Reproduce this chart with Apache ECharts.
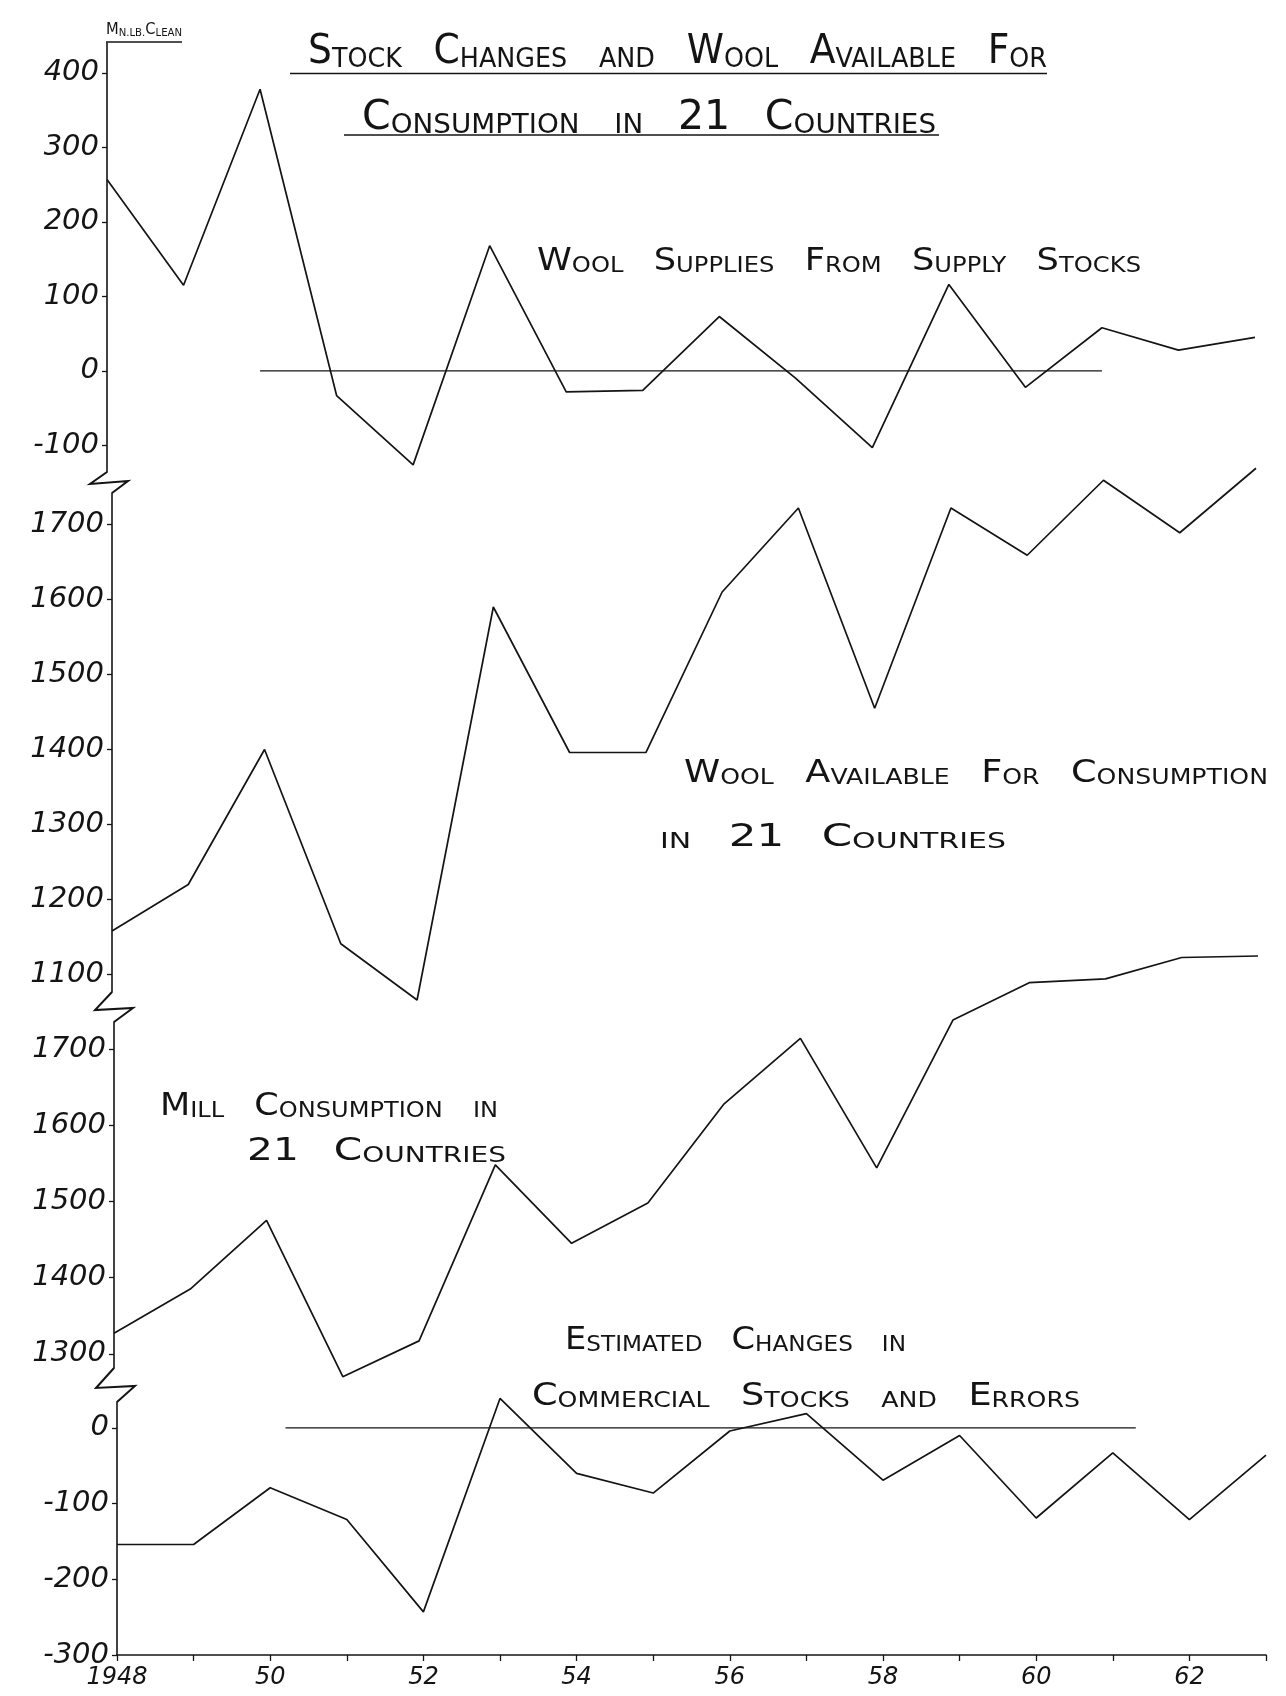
<!DOCTYPE html>
<html><head><meta charset="utf-8">
<script src="https://cdn.jsdelivr.net/npm/echarts@6/dist/echarts.min.js"></script>
<style>html,body{margin:0;padding:0;background:#fff}#c{width:1286px;height:1696px}</style>
</head><body><div id="c"></div>
<script>
// ---------------- DATA ----------------
const years = [1948,1949,1950,1951,1952,1953,1954,1955,1956,1957,1958,1959,1960,1961,1962,1963];
const supplyStocks      = [257,115,378,-33,-126,168,-28,-26,73,-10,-103,116,-22,58,28,45];
const woolAvailable     = [1158,1220,1400,1141,1066,1590,1396,1396,1610,1722,1455,1722,1659,1759,1689,1775];
const millConsumption   = [1327,1385,1475,1270,1317,1548,1445,1498,1628,1714,1544,1738,1787,1792,1820,1822];
const commercialChanges = [-154,-154,-79,-121,-243,39,-60,-86,-4,19,-69,-10,-119,-33,-121,-36];
const zeroLine1 = [[1950,0],[1961,0]];
const zeroLine4 = [[1950.2,0],[1961.3,0]];
const yTicks1 = [-100,0,100,200,300,400];
const yTicks2 = [1100,1200,1300,1400,1500,1600,1700];
const yTicks3 = [1300,1400,1500,1600,1700];
const yTicks4 = [-300,-200,-100,0];
const xLabelYears = [1948,1950,1952,1954,1956,1958,1960,1962];
const xLabelTexts = ['1948','50','52','54','56','58','60','62'];
const unitLabel = 'Mn.lb.Clean';
const titleLines = ['Stock Changes and Wool Available For','Consumption in 21 Countries'];
const seriesLabels = {
  supply: ['Wool Supplies From Supply Stocks'],
  available: ['Wool Available For Consumption','in 21 Countries'],
  mill: ['Mill Consumption in','21 Countries'],
  commercial: ['Estimated Changes in','Commercial Stocks and Errors']
};

// ---------------- LAYOUT / STYLE ----------------
const INK = '#141414';
const FONT = '"DejaVu Sans", sans-serif';
const grids = [
  {left:107, top:43,   width:1148, height:429},
  {left:112, top:493,  width:1144, height:499},
  {left:114, top:1022, width:1144, height:346},
  {left:117, top:1402, width:1149, height:253}
];
const yRanges = [[-135.6,440],[1076.7,1742],[1281.4,1735.4],[-300,34.3]];
const yTickSets = [yTicks1,yTicks2,yTicks3,yTicks4];
const seriesVals = [supplyStocks,woolAvailable,millConsumption,commercialChanges];

const mctx = document.createElement('canvas').getContext('2d');
function tw(t,size){ mctx.font = size+'px "DejaVu Sans"'; return mctx.measureText(t).width; }
function label(str,x,y,big,small,target){
  const words = str.split(' ');
  let total = 0;
  const parts = words.map(wd=>{
    const runs=[];
    for(const ch of wd){
      const k = /[A-Z0-9]/.test(ch)?'L':'s';
      const c = ch.toUpperCase();
      if(runs.length && runs[runs.length-1].k===k) runs[runs.length-1].t+=c; else runs.push({k,t:c});
    }
    runs.forEach(r=>{ total += tw(r.t, r.k==='L'?big:small); });
    return runs;
  });
  const gap = 1.25*small;
  const natural = total + gap*(words.length-1);
  const sx = target/natural;
  const text = parts.map(runs=>runs.map(r=>'{'+r.k+'|'+r.t+'}').join('')).join('{g| }');
  const lh = big*1.15;
  const rich = {
    L:{fontSize:big,fontFamily:FONT,fill:INK,color:INK,verticalAlign:'bottom',lineHeight:lh},
    s:{fontSize:small,fontFamily:FONT,fill:INK,color:INK,verticalAlign:'bottom',lineHeight:lh},
    g:{width:gap,fontSize:small,lineHeight:lh}
  };
  return {type:'text', x:x, y:y, scaleX:sx, silent:true,
    style:{text:text, rich:rich, x:0, y:0, align:'left', verticalAlign:'middle', textAlign:'left', textVerticalAlign:'middle', fill:INK}};
}
function hline(x1,x2,y,w){
  return {type:'line', silent:true, shape:{x1:x1,y1:y,x2:x2,y2:y}, style:{stroke:INK,lineWidth:w||1.4}};
}
function brk(pts){
  return {type:'polyline', silent:true, shape:{points:pts}, style:{stroke:INK,lineWidth:2,fill:null}};
}

const xAxes = grids.map((g,i)=>{
  const last = i===3;
  return {type:'value', gridIndex:i, min:1948, max:1963, splitLine:{show:false},
    axisLine:{show:last, onZero:false, lineStyle:{color:INK,width:1.6}},
    axisTick:{show:last, customValues:years, length:6, lineStyle:{color:INK,width:1.3}},
    axisLabel:{show:last, customValues:xLabelYears, margin:11, fontSize:24, fontStyle:'italic', fontFamily:FONT, color:INK,
      formatter:v=>{const k=xLabelYears.indexOf(v); return k>=0?xLabelTexts[k]:'';}}};
});
const yAxes = grids.map((g,i)=>({type:'value', gridIndex:i, min:yRanges[i][0], max:yRanges[i][1], splitLine:{show:false},
  axisLine:{show:true, onZero:false, lineStyle:{color:INK,width:1.6}},
  axisTick:{show:true, customValues:yTickSets[i], length:5, lineStyle:{color:INK,width:1.3}},
  axisLabel:{customValues:yTickSets[i], margin:8, fontSize:29, fontStyle:'italic', fontFamily:FONT, color:INK,
    formatter:v=>String(Math.round(v))}
}));

const series = seriesVals.map((vals,i)=>({type:'line', xAxisIndex:i, yAxisIndex:i, symbol:'none', clip:false,
  data: years.map((y,k)=>[y,vals[k]]), lineStyle:{color:INK,width:1.7}, silent:true}));
series.push({type:'line', xAxisIndex:0, yAxisIndex:0, symbol:'none', data:zeroLine1, lineStyle:{color:INK,width:1.3}, silent:true});
series.push({type:'line', xAxisIndex:3, yAxisIndex:3, symbol:'none', clip:false, data:zeroLine4, lineStyle:{color:INK,width:1.3}, silent:true});

const graphic = [
  label(unitLabel,106,29,16,11,76), hline(106,182,42,1.3),
  label(titleLines[0],308,50,40,27,739), hline(290,1047,73.5,1.6),
  label(titleLines[1],362,116,40,27,574), hline(344,939,135,1.6),
  label(seriesLabels.supply[0],537,259,32,22,604),
  label(seriesLabels.available[0],684,771,32,22,584),
  label(seriesLabels.available[1],660,835,32,22,346),
  label(seriesLabels.mill[0],160,1104,32,22,338),
  label(seriesLabels.mill[1],247,1149,32,22,259),
  label(seriesLabels.commercial[0],565,1338,32,22,341),
  label(seriesLabels.commercial[1],532,1394,32,22,548),
  brk([[107,472],[90,484],[128,481],[112,493]]),
  brk([[112,992],[95,1010],[133,1008],[114,1022]]),
  brk([[114,1368],[96,1388],[135,1386],[117,1402]])
];

const chart = echarts.init(document.getElementById('c'), null, {renderer:'canvas'});
chart.setOption({animation:false, backgroundColor:'#fff', grid:grids, xAxis:xAxes, yAxis:yAxes, series:series, graphic:graphic});
</script></body></html>
